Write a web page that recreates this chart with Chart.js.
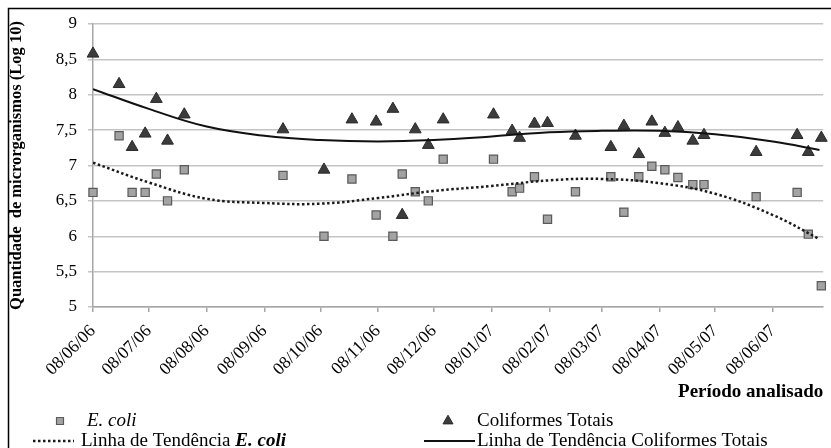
<!DOCTYPE html>
<html>
<head>
<meta charset="utf-8">
<script src="https://cdn.jsdelivr.net/npm/chart.js@4.4.1/dist/chart.umd.min.js"></script>
<style>
  html, body { margin: 0; padding: 0; background: #fff; }
</style>
</head>
<body>
<canvas id="chart" width="831" height="448"></canvas>
<script>
// sampling dates and log10 counts
const sampleDates = [
  '2006-06-08','2006-06-22','2006-06-29','2006-07-06','2006-07-12','2006-07-18','2006-07-27',
  '2006-09-18','2006-10-10','2006-10-25','2006-11-07','2006-11-16','2006-11-21','2006-11-28',
  '2006-12-05','2006-12-13','2007-01-09','2007-01-19','2007-01-23','2007-01-31','2007-02-07',
  '2007-02-22','2007-03-13','2007-03-20','2007-03-28','2007-04-04','2007-04-11','2007-04-18',
  '2007-04-26','2007-05-02','2007-05-30','2007-06-21','2007-06-27','2007-07-04'
];
const ecoli = [
  6.62, 7.42, 6.62, 6.62, 6.88, 6.50, 6.94,
  6.86, 6.00, 6.81, 6.30, 6.00, 6.88, 6.63,
  6.50, 7.09, 7.09, 6.63, 6.68, 6.84, 6.24,
  6.63, 6.84, 6.34, 6.84, 6.99, 6.94, 6.83,
  6.73, 6.73, 6.56, 6.62, 6.03, 5.30
];
const coliformes = [
  8.58, 8.15, 7.26, 7.45, 7.94, 7.35, 7.72,
  7.51, 6.94, 7.65, 7.62, 7.80, 6.30, 7.51,
  7.29, 7.65, 7.72, 7.49, 7.39, 7.59, 7.60,
  7.42, 7.26, 7.56, 7.16, 7.62, 7.46, 7.54,
  7.35, 7.43, 7.19, 7.43, 7.19, 7.39
];

// trend lines
const trendDates = [
  '2006-06-08','2006-07-08','2006-08-08','2006-09-08','2006-10-08','2006-11-08','2006-12-08',
  '2007-01-08','2007-02-08','2007-03-08','2007-04-08','2007-05-08','2007-06-08','2007-07-03'
];
const trendEcoli = [7.04, 6.76, 6.53, 6.47, 6.46, 6.54, 6.64, 6.71, 6.79, 6.81, 6.75, 6.60, 6.30, 5.96];
const trendColiformes = [8.08, 7.80, 7.55, 7.42, 7.36, 7.34, 7.36, 7.41, 7.47, 7.49, 7.49, 7.44, 7.34, 7.22];

const tickDates = [
  '2006-06-08','2006-07-08','2006-08-08','2006-09-08','2006-10-08','2006-11-08','2006-12-08',
  '2007-01-08','2007-02-08','2007-03-08','2007-04-08','2007-05-08','2007-06-08'
];
const tickLabels = [
  '08/06/06','08/07/06','08/08/06','08/09/06','08/10/06','08/11/06','08/12/06',
  '08/01/07','08/02/07','08/03/07','08/04/07','08/05/07','08/06/07'
];
const axisStart = '2006-06-08';
const axisEnd = '2007-07-05';

const SERIF = '"Liberation Serif", "Times New Roman", serif';

function toDay(s) {
  const p = s.split('-').map(Number);
  const a = axisStart.split('-').map(Number);
  return (Date.UTC(p[0], p[1] - 1, p[2]) - Date.UTC(a[0], a[1] - 1, a[2])) / 86400000;
}

function pts(dates, vals) {
  return dates.map((d, i) => ({ x: toDay(d), y: vals[i] }));
}

// frame + legend (2x2 grid under the axis)
const legendPlugin = {
  id: 'legendGrid',
  afterDraw(chart) {
    const ctx = chart.ctx;
    const ds = chart.data.datasets;
    ctx.save();

    ctx.strokeStyle = '#000';
    ctx.lineWidth = 1.5;
    ctx.strokeRect(8.5, 8.5, 900, 900);

    const items = [
      { i: 0, x: 60, tx: 87, y: 421 },
      { i: 1, x: 448, tx: 477, y: 421 },
      { i: 2, x0: 33, x1: 74, tx: 81, y: 441 },
      { i: 3, x0: 424, x1: 475, tx: 477, y: 441 }
    ];
    items.forEach(it => {
      const d = ds[it.i];
      if (d.type === 'line') {
        ctx.strokeStyle = d.borderColor;
        ctx.lineWidth = d.borderWidth;
        ctx.setLineDash(d.borderDash || []);
        ctx.beginPath();
        ctx.moveTo(it.x0, it.y);
        ctx.lineTo(it.x1, it.y);
        ctx.stroke();
        ctx.setLineDash([]);
      } else {
        ctx.fillStyle = d.backgroundColor;
        ctx.strokeStyle = d.borderColor;
        ctx.lineWidth = d.borderWidth;
        Chart.helpers.drawPoint(ctx, {
          pointStyle: d.pointStyle, radius: d.pointRadius * 0.85, rotation: 0, borderWidth: d.borderWidth
        }, it.x, it.y);
      }
      // "E. coli" goes in italics
      ctx.fillStyle = '#000';
      ctx.textBaseline = 'middle';
      ctx.textAlign = 'left';
      const parts = d.label.split('E. coli');
      let x = it.tx;
      parts.forEach((p, k) => {
        ctx.font = '19px ' + SERIF;
        ctx.fillText(p, x, it.y);
        x += ctx.measureText(p).width;
        if (k < parts.length - 1) {
          ctx.font = (d.type === 'line' ? 'italic bold ' : 'italic ') + '19px ' + SERIF;
          ctx.fillText('E. coli', x, it.y);
          x += ctx.measureText('E. coli').width;
        }
      });
    });
    ctx.restore();
  }
};

new Chart(document.getElementById('chart'), {
  type: 'scatter',
  data: {
    datasets: [
      {
        label: 'E. coli',
        data: pts(sampleDates, ecoli),
        pointStyle: 'rect',
        pointRadius: 5.8,
        backgroundColor: '#a3a3a3',
        borderColor: '#5a5a5a',
        borderWidth: 1.2,
        clip: false,
        order: 2
      },
      {
        label: 'Coliformes Totais',
        data: pts(sampleDates, coliformes),
        pointStyle: 'triangle',
        pointRadius: 6.8,
        backgroundColor: '#3c3c3c',
        borderColor: '#2a2a2a',
        borderWidth: 1,
        clip: false,
        order: 2
      },
      {
        type: 'line',
        label: 'Linha de Tendência E. coli',
        data: pts(trendDates, trendEcoli),
        borderColor: '#1a1a1a',
        borderWidth: 2.5,
        borderDash: [2.5, 2.5],
        pointRadius: 0,
        tension: 0.4,
        fill: false,
        order: 1
      },
      {
        type: 'line',
        label: 'Linha de Tendência Coliformes Totais',
        data: pts(trendDates, trendColiformes),
        borderColor: '#111',
        borderWidth: 2,
        pointRadius: 0,
        tension: 0.4,
        fill: false,
        order: 1
      }
    ]
  },
  options: {
    responsive: false,
    animation: false,
    events: [],
    layout: { padding: { top: 24, right: 4, left: 0, bottom: 0 } },
    plugins: {
      legend: { display: false },
      tooltip: { enabled: false }
    },
    scales: {
      x: {
        type: 'linear',
        min: 0,
        max: toDay(axisEnd),
        afterBuildTicks: s => { s.ticks = tickDates.map(d => ({ value: toDay(d) })); },
        afterFit: s => { s.height = 141; },
        ticks: {
          autoSkip: false,
          maxRotation: 45,
          minRotation: 45,
          padding: 9,
          color: '#000',
          font: { family: SERIF, size: 17.5 },
          callback: (v, i) => tickLabels[i]
        },
        grid: { drawOnChartArea: false, drawTicks: true, tickLength: 5, color: '#a6a6a6', lineWidth: 1.5 },
        border: { color: '#a6a6a6', width: 1.5 },
        title: {
          display: true,
          text: 'Período analisado',
          align: 'end',
          color: '#000',
          font: { family: SERIF, size: 19, weight: 'bold' },
          padding: { top: 0, bottom: 45 }
        }
      },
      y: {
        min: 5,
        max: 9,
        afterFit: s => { s.width = 93; },
        ticks: {
          stepSize: 0.5,
          padding: 11,
          color: '#000',
          font: { family: SERIF, size: 17 },
          callback: v => String(v).replace('.', ',')
        },
        grid: { color: '#c4c4c4', lineWidth: 1.5, tickLength: 5 },
        border: { color: '#a6a6a6', width: 1.5 },
        title: {
          display: true,
          text: 'Quantidade  de microrganismos (Log 10)',
          color: '#000',
          font: { family: SERIF, size: 16.5, weight: 'bold' },
          padding: { top: 7, bottom: 0 }
        }
      }
    }
  },
  plugins: [legendPlugin]
});
</script>
</body>
</html>
